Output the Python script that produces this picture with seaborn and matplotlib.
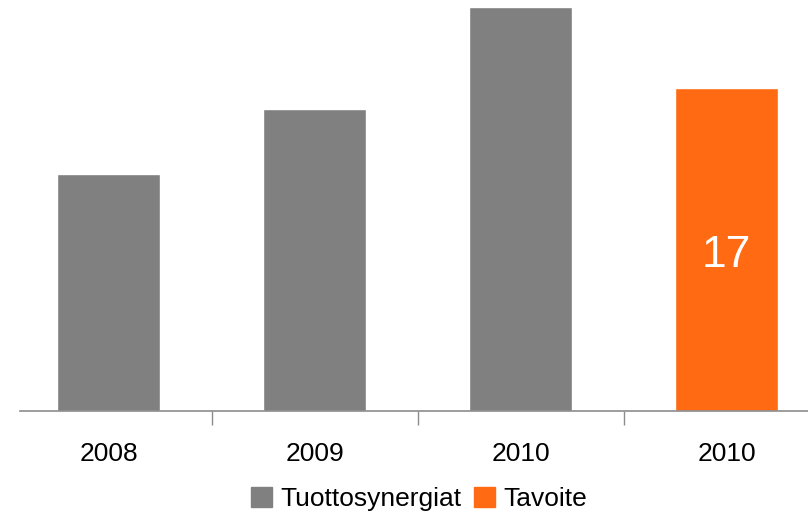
import pandas as pd
import matplotlib.pyplot as plt
import seaborn as sns
from matplotlib.patches import Patch

# -------------------------------
# Data
# -------------------------------
keys = ["2008", "2009", "2010", "2010 tavoite"]
tick_labels = ["2008", "2009", "2010", "2010"]
values = [12.5, 15.9, 21.3, 17]
series = ["Tuottosynergiat", "Tuottosynergiat", "Tuottosynergiat", "Tavoite"]
bar_label = "17"

colors = {"Tuottosynergiat": "#808080", "Tavoite": "#FF6A13"}

df = pd.DataFrame({"key": keys, "value": values, "series": series})

# -------------------------------
# Plot
# -------------------------------
sns.set_style("white")
plt.rcParams['font.family'] = ['Liberation Sans', 'DejaVu Sans']
plt.rcParams['text.color'] = 'black'
plt.rcParams['xtick.color'] = 'black'

fig = plt.figure(figsize=(8.08, 5.13), dpi=100)
ax = fig.add_axes([20 / 808, 1 - 411 / 513, 788 / 808, 411 / 513])

sns.barplot(data=df, x="key", y="value", hue="series", order=keys,
            palette=colors, dodge=False, width=0.5, saturation=1,
            legend=False, ax=ax)

ax.set_xlim(-0.43, 3.395)
ax.set_ylim(0, 21.65)

# value label inside the target bar
ax.text(3, 8.2, bar_label, color="white", fontsize=32,
        ha="center", va="center")

# axes styling
for s in ["left", "top", "right"]:
    ax.spines[s].set_visible(False)
ax.spines["bottom"].set_color("#8c8c8c")
ax.spines["bottom"].set_linewidth(1.2)
ax.set_yticks([])
ax.set_xlabel("")
ax.set_ylabel("")

# category labels, with separator ticks between categories
ax.set_xticks(range(len(keys)))
ax.set_xticklabels(tick_labels, fontsize=19, color="black")
ax.tick_params(axis="x", which="major", bottom=True, length=0, pad=22)
ax.set_xticks([0.5, 1.5, 2.5], minor=True)
ax.tick_params(axis="x", which="minor", bottom=True, length=10, width=1,
               color="#8c8c8c", direction="out")

handles = [Patch(color=colors["Tuottosynergiat"], label="Tuottosynergiat"),
           Patch(color=colors["Tavoite"], label="Tavoite")]
fig.legend(handles=handles, loc="center", bbox_to_anchor=(419 / 808, 1 - 499 / 513),
           ncol=2, frameon=False, fontsize=19, handlelength=0.8, handleheight=0.8,
           handletextpad=0.3, columnspacing=0.5)

plt.savefig("out.png", dpi=100)
